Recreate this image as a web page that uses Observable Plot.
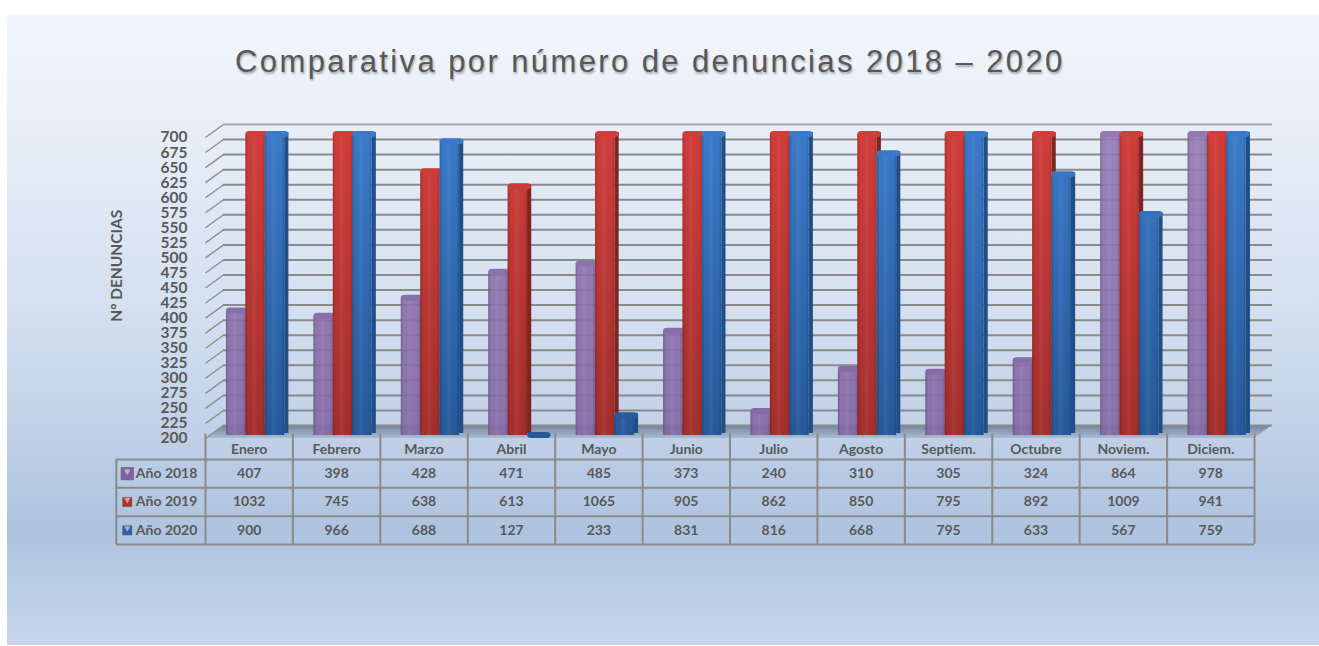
<!DOCTYPE html>
<html><head><meta charset="utf-8">
<script src="https://cdn.jsdelivr.net/npm/d3@7"></script>
<script src="https://cdn.jsdelivr.net/npm/@observablehq/plot@0.6"></script>
<style>
html,body{margin:0;padding:0;background:#fff;overflow:hidden}
#panel{position:absolute;left:7px;top:14px;width:1312px;height:631px;
background:linear-gradient(180deg,#f3f7fc 0%,#d2deef 50%,#aec3df 82%,#c6d7ec 100%)}
#stage{position:absolute;left:0;top:0;width:1319px;height:646px}
#stage svg{position:absolute;left:0;top:0}
h1{position:absolute;left:235px;top:44px;margin:0;white-space:nowrap;font:400 31px "Liberation Sans",Arial,sans-serif;
letter-spacing:2.4px;color:#585858;text-shadow:1px 2px 2px rgba(60,60,60,.4)}
</style></head><body>
<div id="panel"></div>
<div id="stage"><h1>Comparativa por número de denuncias 2018 – 2020</h1></div>
<script>
const months = ["Enero","Febrero","Marzo","Abril","Mayo","Junio","Julio","Agosto","Septiem.","Octubre","Noviem.","Diciem."];
const seriesNames = ["Año 2018","Año 2019","Año 2020"];
const v2018 = [407,398,428,471,485,373,240,310,305,324,864,978];
const v2019 = [1032,745,638,613,1065,905,862,850,795,892,1009,941];
const v2020 = [900,966,688,127,233,831,816,668,795,633,567,759];
const yTicks = d3.range(200,701,25);
const seriesValues = [v2018,v2019,v2020];
const sideColors = ["#64507f","#7c2523","#204f88"];

const W=1319,H=646,FONT="Lato, sans-serif",INK="#595959";
const depthX=0.206, depthY=21.6;           // wall depth in scale units
const barW=0.222, barStart=0.24, sideW=0.048;
const cap=v=>Math.max(200,Math.min(700,v));
const rows=seriesNames.flatMap((s,k)=>months.map((m,i)=>({s,k,m,i,v:seriesValues[k][i],
  a:i+barStart+k*barW,b:i+barStart+(k+1)*barW,top:cap(seriesValues[k][i])})));

const defs=()=>d3.create("svg:defs").html(`
<linearGradient id="g0" gradientUnits="userSpaceOnUse" x1="0" x2="0" y1="130" y2="434"><stop offset="0" stop-color="#9479b4"/><stop offset="1" stop-color="#8468a6"/></linearGradient>
<linearGradient id="g1" gradientUnits="userSpaceOnUse" x1="0" x2="0" y1="130" y2="434"><stop offset="0" stop-color="#d33d3a"/><stop offset="1" stop-color="#a42e2b"/></linearGradient>
<linearGradient id="g2" gradientUnits="userSpaceOnUse" x1="0" x2="0" y1="130" y2="434"><stop offset="0" stop-color="#3a7bcb"/><stop offset="1" stop-color="#25599a"/></linearGradient>
<linearGradient id="shade" x1="0" x2="1" y1="0" y2="0"><stop offset="0" stop-color="#000" stop-opacity=".2"/><stop offset=".14" stop-color="#000" stop-opacity="0"/><stop offset=".45" stop-color="#fff" stop-opacity=".06"/><stop offset=".85" stop-color="#000" stop-opacity="0"/><stop offset="1" stop-color="#000" stop-opacity=".16"/></linearGradient>
<linearGradient id="floor" gradientUnits="userSpaceOnUse" x1="0" x2="0" y1="424" y2="438"><stop offset="0" stop-color="#6f7f92"/><stop offset="1" stop-color="#a9bcd3"/></linearGradient>
`).node();

const barMarks=seriesNames.flatMap((s,k)=>{
  const d=rows.filter(r=>r.k===k);
  return [
    Plot.rect(d,{x1:"b",x2:r=>r.b+sideW,y1:200,y2:"top",fill:sideColors[k],dy:-5}),
    Plot.rect(d,{x1:"a",x2:"b",y1:200,y2:"top",fill:`url(#g${k})`,fillOpacity:k===0?.9:1,dy:-3}),
    Plot.rect(d,{x1:"a",x2:"b",y1:200,y2:"top",fill:"url(#shade)",dy:-3}),
    Plot.rect(d,{x1:"a",x2:r=>r.b+sideW,y1:"top",y2:"top",fill:`url(#g${k})`,insetTop:-3,insetBottom:-3,rx:4,dy:-3})
  ];
});

const main=Plot.plot({
  width:W,height:H,marginLeft:205,marginRight:65,marginTop:137,marginBottom:208,
  style:{background:"transparent",fontFamily:FONT},
  x:{type:"linear",domain:[0,12],axis:null},
  y:{type:"linear",domain:[200,700],axis:null},
  marks:[
    defs,
    Plot.areaX([{y:200,a:0,b:12},{y:200+depthY,a:depthX,b:12+depthX}],{x1:"a",x2:"b",y:"y",fill:"url(#floor)"}),
    Plot.link(yTicks,{x1:0,x2:depthX,y1:d=>d,y2:d=>d+depthY,stroke:"#8e8e8e",strokeWidth:1.4}),
    Plot.ruleY(yTicks,{x1:depthX,x2:12+depthX,y:d=>d+depthY,stroke:d=>d===700?"#a8a8a8":"#8a8a8a",strokeWidth:2}),
    ...barMarks,
    Plot.axisY({ticks:yTicks,tickFormat:d=>String(d),tickSize:0,tickPadding:18,label:null,fill:INK,fontSize:15.5,fontWeight:"bold"}),
    Plot.axisX({ticks:months.map((m,i)=>i+.5),tickFormat:d=>months[d-.5],tickSize:0,tickPadding:6,label:null,fill:INK,fontSize:14,fontWeight:"bold"}),
    Plot.text(["Nº DENUNCIAS"],{x:-1.015,y:487,text:d=>d,rotate:-90,fill:INK,fontSize:15.5,fontWeight:"bold"})
  ]
});

const tableLeft=-1.02, rowIdx=[0,1,2], swatch=["#8064a2","#b3302c","#2a62a8"];
const cells=rows.map(r=>({...r,row:r.k+.5,col:r.i+.5}));
const lines=[0,1,2,3];
const table=Plot.plot({
  width:W,height:H,marginLeft:205,marginRight:65,marginTop:459,marginBottom:102,
  style:{background:"transparent",fontFamily:FONT},
  x:{type:"linear",domain:[0,12],axis:null},
  y:{type:"linear",domain:[0,3],reverse:true,axis:null},
  r:{type:"identity"},
  marks:[
    Plot.ruleY(lines,{x1:tableLeft,x2:12,stroke:"#8a8a8a",strokeWidth:2}),
    Plot.ruleX(d3.range(13),{y1:-.9,y2:3,stroke:"#8a8a8a",strokeWidth:2}),
    Plot.ruleX([tableLeft],{y1:0,y2:3,stroke:"#8a8a8a",strokeWidth:2}),
    Plot.text(cells,{x:"col",y:"row",text:d=>String(d.v),fill:INK,fontSize:14,fontWeight:"bold"}),
    Plot.text(seriesNames,{x:-.445,y:(d,i)=>i+.5,text:d=>d,fill:INK,fontSize:14,fontWeight:"bold"}),
    Plot.dot(rowIdx,{x:-.895,y:d=>d+.5,symbol:"square",r:d=>d===0?7:5.2,fill:d=>swatch[d],stroke:"#555",strokeWidth:.5}),
    Plot.dot(rowIdx,{x:-.895,y:d=>d+.42,symbol:"triangle",rotate:180,r:2.4,fill:"#fff",fillOpacity:.5})
  ]
});
const stage=document.getElementById("stage");
stage.append(main,table);
</script>
</body></html>
